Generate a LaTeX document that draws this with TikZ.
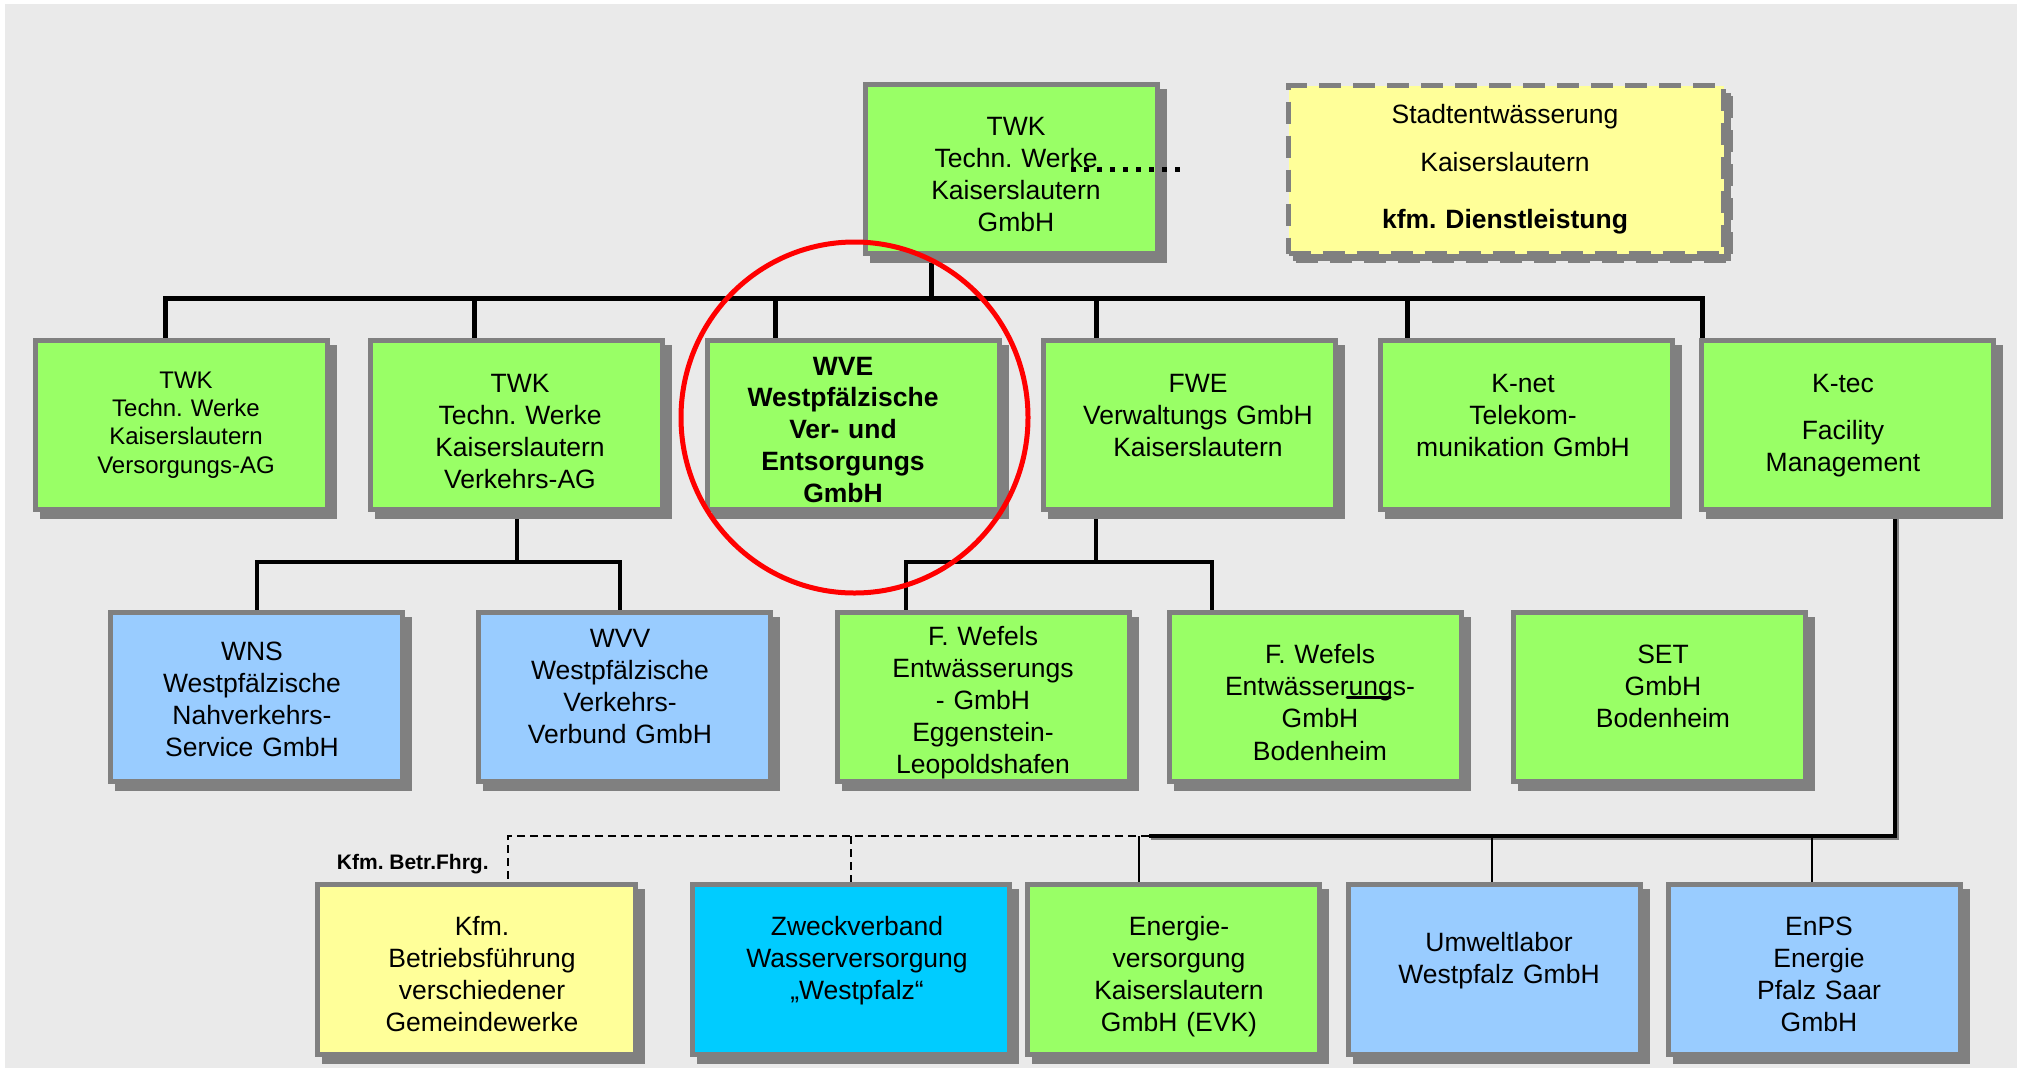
\documentclass[tikz,border=0pt]{standalone}
\usepackage{fontspec}
\setmainfont{Liberation Sans}
\frenchspacing
\definecolor{bggrey}{HTML}{EAEAEA}
\definecolor{framegrey}{HTML}{808080}
\definecolor{bgreen}{HTML}{99FF66}
\definecolor{bblue}{HTML}{99CCFF}
\definecolor{byellow}{HTML}{FFFF99}
\definecolor{bcyan}{HTML}{00CCFF}
\pgfdeclarelayer{back}
\pgfdeclarelayer{bg}
\pgfsetlayers{back,bg,main}
\begin{document}
\begin{tikzpicture}[x=0.5pt,y=-0.5pt,
  orgbox/.style={draw=framegrey, line width=2.5pt, inner sep=0pt,
    minimum width=146pt, minimum height=84.5pt,
    preaction={draw=framegrey, fill=framegrey, line width=2.5pt,
      transform canvas={xshift=3.5pt,yshift=-3.5pt}}},
  widebox/.style={minimum width=159pt, minimum height=85pt},
  lowbox/.style={minimum height=85pt},
  txt/.style={align=center, anchor=base, inner sep=0pt, text width=145pt,
    font=\fontsize{13.25pt}{16.1pt}\selectfont},
  smalltxt/.style={txt, font=\fontsize{12pt}{14.15pt}\selectfont},
  boldtxt/.style={txt, font=\bfseries\fontsize{13.25pt}{15.95pt}\selectfont},
  bus/.style={line width=2.5pt, line join=miter},
  subline/.style={line width=1.75pt, line join=miter},
  thickbus/.style={line width=2pt, line join=miter},
  dropline/.style={line width=1pt},
  dashline/.style={line width=1pt, dash pattern=on 4pt off 2.5pt}
]
\useasboundingbox (0,0) rectangle (2022,1072);
\begin{pgfonlayer}{back}
  \fill[white] (0,0) rectangle (2022,1072);
  \fill[bggrey] (5,4) rectangle (2017,1068);
\end{pgfonlayer}

% top level
\node[orgbox, fill=bgreen] (top) at (1011,169) {};
\node[orgbox, fill=byellow, minimum width=217.5pt, minimum height=84pt,
  dash pattern=on 11pt off 6pt,
  preaction={draw=framegrey, line width=2.5pt, dash pattern=on 11pt off 6pt,
    transform canvas={xshift=3.5pt,yshift=-3.5pt}}] (ste) at (1506,169.5) {};

% second row
\node[orgbox, fill=bgreen] (b1) at (181.5,425) {};
\node[orgbox, fill=bgreen] (b2) at (516,425) {};
\node[orgbox, fill=bgreen] (b3) at (853.5,425) {};
\node[orgbox, fill=bgreen] (b4) at (1189.5,425) {};
\node[orgbox, fill=bgreen] (b5) at (1526,425) {};
\node[orgbox, fill=bgreen] (b6) at (1847,425) {};

% third row
\node[orgbox, fill=bblue] (wns) at (256.5,697) {};
\node[orgbox, fill=bblue] (wvv) at (624.5,697) {};
\node[orgbox, fill=bgreen] (fw1) at (983.5,697) {};
\node[orgbox, fill=bgreen] (fw2) at (1315.5,697) {};
\node[orgbox, fill=bgreen] (set) at (1659,697) {};

% fourth row
\node[orgbox, widebox, fill=byellow] (kfm) at (476.5,969.5) {};
\node[orgbox, widebox, minimum width=158.5pt, fill=bcyan] (zweck) at (851,969.5) {};
\node[orgbox, lowbox, fill=bgreen] (evk) at (1173.5,969.5) {};
\node[orgbox, lowbox, fill=bblue] (uwl) at (1494,969.5) {};
\node[orgbox, lowbox, fill=bblue] (enps) at (1814,969.5) {};

% texts
\node[txt] (ttop) at (1016,135) {TWK\\Techn. Werke\\Kaiserslautern\\GmbH};
\node[txt] (tste) at (1505,123) {Stadtentw\"asserung\\[8.15pt]Kaiserslautern\\[12.15pt]\textbf{kfm. Dienstleistung}};
\node[smalltxt] (tb1) at (186,388.3) {TWK\\Techn. Werke\\Kaiserslautern\\Versorgungs-AG};
\node[txt] (tb2) at (520,392) {TWK\\Techn. Werke\\Kaiserslautern\\Verkehrs-AG};
\node[boldtxt] (tb3) at (843,375) {WVE\\Westpf\"alzische\\Ver- und\\Entsorgungs\\GmbH};
\node[txt] (tb4) at (1198,392) {FWE\\Verwaltungs GmbH\\Kaiserslautern};
\node[txt] (tb5) at (1523,392) {K-net\\Telekom-\\munikation GmbH};
\node[txt] (tb6) at (1843,392) {K-tec\\[7.5pt]Facility\\Management};
\node[txt] (twns) at (252,660) {WNS\\Westpf\"alzische\\Nahverkehrs-\\Service GmbH};
\node[txt] (twvv) at (620,647) {WVV\\Westpf\"alzische\\Verkehrs-\\Verbund GmbH};
\node[txt] (tfw1) at (983,645) {F. Wefels\\Entw\"asserungs\\- GmbH\\Eggenstein-\\Leopoldshafen};
\node[txt] (tfw2) at (1320,663.5) {F. Wefels\\Entw\"asserungs-\\GmbH\\Bodenheim};
\node[txt] (tset) at (1663,663.5) {SET\\GmbH\\Bodenheim};
\node[txt] (tkfm) at (482,935) {Kfm.\\Betriebsf\"uhrung\\verschiedener\\Gemeindewerke};
\node[txt] (tzweck) at (857,935) {Zweckverband\\Wasserversorgung\\„Westpfalz“};
\node[txt] (tevk) at (1179,935) {Energie-\\versorgung\\Kaiserslautern\\GmbH (EVK)};
\node[txt] (tuwl) at (1499,951) {Umweltlabor\\Westpfalz GmbH};
\node[txt] (tenps) at (1819,935) {EnPS\\Energie\\Pfalz Saar\\GmbH};
\node[anchor=base east, inner sep=0pt, font=\bfseries\fontsize{10.5pt}{12pt}\selectfont] (kfmlabel) at (489,869) {Kfm. Betr.Fhrg.};

% connector points
\coordinate (t0) at (931,298);
\coordinate (d1) at (165,298);
\coordinate (d2) at (474,298);
\coordinate (d3) at (775,298);
\coordinate (d4) at (1096,298);
\coordinate (d5) at (1407,298);
\coordinate (d6) at (1702,298);
\coordinate (v1) at (517,562);
\coordinate (v1l) at (257,562);
\coordinate (v1r) at (620,562);
\coordinate (v2) at (1096,562);
\coordinate (v2l) at (906,562);
\coordinate (v2r) at (1212,562);
\coordinate (k0) at (1895,836);
\coordinate (k1) at (1149,836);
\coordinate (kd1) at (508,836);
\coordinate (kd2) at (851,836);
\coordinate (kd3) at (1139,836);
\coordinate (kd4) at (1491.5,836);
\coordinate (kd5) at (1811.5,836);
\coordinate (dot1) at (1071,169);
\coordinate (dot2) at (1186,169);

\begin{pgfonlayer}{bg}
  \draw[bus] (top.south -| t0) -- (t0);
  \draw[bus] (b1.north -| d1) -- (d1) -- (d6) -- (b6.north -| d6);
  \draw[bus] (d2) -- (b2.north -| d2);
  \draw[bus] (d3) -- (b3.north -| d3);
  \draw[bus] (d4) -- (b4.north -| d4);
  \draw[bus] (d5) -- (b5.north -| d5);
  \draw[subline] (b2.south -| v1) -- (v1);
  \draw[subline] (wns.north -| v1l) -- (v1l) -- (v1r) -- (wvv.north -| v1r);
  \draw[subline] (b4.south -| v2) -- (v2);
  \draw[subline] (fw1.north -| v2l) -- (v2l) -- (v2r) -- (fw2.north -| v2r);
  \draw[thickbus, framegrey, transform canvas={xshift=1pt,yshift=-1pt}] (b6.south -| k0) -- (k0) -- (k1);
  \draw[thickbus] (b6.south -| k0) -- (k0) -- (k1);
  \draw[dashline] (k1) -- (kd1) -- (kfm.north -| kd1);
  \draw[dashline] (kd2) -- (zweck.north -| kd2);
  \draw[dropline] (kd3) -- (evk.north -| kd3);
  \draw[dropline] (kd4) -- (uwl.north -| kd4);
  \draw[dropline] (kd5) -- (enps.north -| kd5);
\end{pgfonlayer}

% dotted link and stray mark
\draw[line width=2.5pt, dash pattern=on 2.5pt off 4pt] (dot1) -- (dot2);
\draw[line width=1.5pt, line cap=round] (1347,697) -- (1390,697);

% red highlight
\draw[red, line width=2.5pt] (854.5,417.5) ellipse [x radius=173.5, y radius=175.5];
\end{tikzpicture}
\end{document}
